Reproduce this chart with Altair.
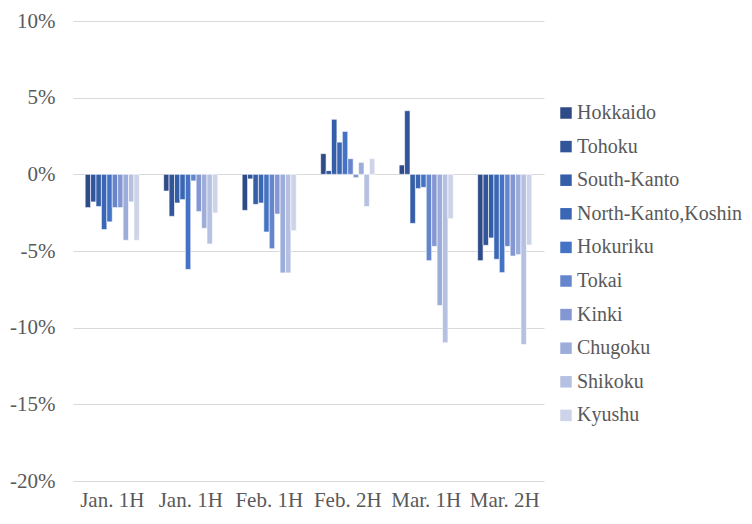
import altair as alt
import pandas as pd

periods = ["Jan. 1H", "Jan. 1H", "Feb. 1H", "Feb. 2H", "Mar. 1H", "Mar. 2H"]
regions = ["Hokkaido", "Tohoku", "South-Kanto", "North-Kanto,Koshin", "Hokuriku",
           "Tokai", "Kinki", "Chugoku", "Shikoku", "Kyushu"]
colors = ["#2E4A87", "#325599", "#355EA8", "#3A66B5", "#4472C4",
          "#6585CC", "#8497D2", "#9DADDA", "#B6C1E2", "#CDD3E9"]

hokkaido = [-2.17, -1.09, -2.35, 1.35, 0.61, -5.63]
tohoku = [-1.80, -2.74, -0.30, 0.24, 4.15, -4.63]
south_kanto = [-2.10, -1.87, -1.96, 3.59, -3.20, -4.15]
north_kanto = [-3.60, -1.65, -1.87, 2.10, -0.93, -5.54]
hokuriku = [-3.10, -6.20, -3.76, 2.80, -0.85, -6.41]
tokai = [-2.17, -0.43, -4.85, 1.02, -5.63, -4.70]
kinki = [-2.17, -2.43, -2.59, -0.22, -4.70, -5.33]
chugoku = [-4.30, -3.52, -6.43, 0.78, -8.55, -5.24]
shikoku = [-1.80, -4.54, -6.43, -2.10, -10.98, -11.10]
kyushu = [-4.30, -2.52, -3.67, 1.02, -2.89, -4.61]

series = [hokkaido, tohoku, south_kanto, north_kanto, hokuriku,
          tokai, kinki, chugoku, shikoku, kyushu]

rows = []
for r, vals in zip(regions, series):
    for i, v in enumerate(vals):
        rows.append({"key": str(i), "region": r, "value": v / 100.0})
df = pd.DataFrame(rows)

label_expr = "[" + ",".join("'" + p + "'" for p in periods) + "][toNumber(datum.value)]"
y_label_expr = "(datum.value < 0 ? '-' : '') + format(abs(datum.value), '.0%')"
font = "Liberation Serif"
grey = "#595959"
fs = 21

chart = alt.Chart(df).mark_bar(stroke="white", strokeWidth=0.6).encode(
    x=alt.X("key:N", sort=[str(i) for i in range(len(periods))],
            scale=alt.Scale(paddingInner=0.31, paddingOuter=0.155),
            axis=alt.Axis(title=None, labelExpr=label_expr, labelAngle=0,
                          domain=False, ticks=False, labelFont=font,
                          labelFontSize=fs, labelColor=grey, labelPadding=8)),
    xOffset=alt.XOffset("region:N", sort=regions,
                        scale=alt.Scale(paddingInner=0, paddingOuter=0)),
    y=alt.Y("value:Q", scale=alt.Scale(domain=[-0.2, 0.1], nice=False),
            axis=alt.Axis(title=None, labelExpr=y_label_expr,
                          values=[-0.2, -0.15, -0.1, -0.05, 0, 0.05, 0.1],
                          domain=False, ticks=False, labelFont=font, labelFontSize=fs,
                          labelColor=grey, labelPadding=18, gridColor="#D9D9D9")),
    color=alt.Color("region:N", sort=regions,
                    scale=alt.Scale(domain=regions, range=colors),
                    legend=alt.Legend(title=None, orient="none", legendX=483, legendY=82,
                                      symbolType="square", symbolSize=132,
                                      symbolStrokeWidth=0, labelFont=font,
                                      labelFontSize=20, labelColor=grey,
                                      labelOffset=1, rowPadding=13.6, padding=0,
                                      labelLimit=300)),
).properties(
    width=471, height=460,
    autosize=alt.AutoSizeParams(type="none"),
    padding={"left": 65, "top": 13, "right": 200, "bottom": 35},
).configure_view(stroke=None)

chart.save("out.html", embed_options={"renderer": "svg", "actions": False})
